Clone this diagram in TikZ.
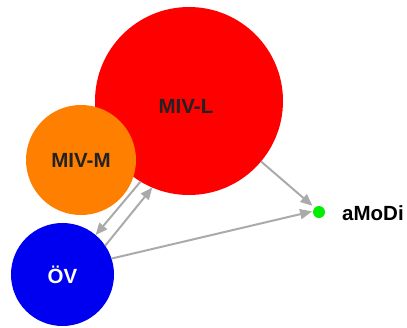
\documentclass[tikz,border=0pt]{standalone}
\usepackage{fontspec}
\setmainfont{Liberation Sans}
\usetikzlibrary{arrows.meta}
\definecolor{cred}{HTML}{FF0000}
\definecolor{corange}{HTML}{FF8000}
\definecolor{cblue}{HTML}{0000F0}
\definecolor{cgreen}{HTML}{00EE00}
\definecolor{cgray}{HTML}{AAAAAA}
\definecolor{ctext}{HTML}{222222}
\tikzset{
  bubble/.style={circle, inner sep=0pt, outer sep=0pt, font=\fontsize{20.5}{22}\selectfont\bfseries},
  arr/.style={draw=cgray, line width=2pt, -{Triangle[length=12pt,width=10pt]}},
}
\begin{document}
\begin{tikzpicture}[x=1pt,y=-1pt]
\useasboundingbox (0,0) rectangle (407,327);
\node[bubble, fill=cred, minimum size=188pt, text=ctext] (r) at (189,101) {};
\node[bubble, fill=corange, minimum size=110pt, text=ctext] (m) at (81,160) {MIV-M};
\node[bubble, text=ctext] (rl) at (186,106) {MIV-L};
\node[bubble, fill=cblue, minimum size=103pt, text=white] (v) at (62.5,274.5) {ÖV};
\node[circle, fill=cgreen, minimum size=12pt, inner sep=0pt, outer sep=0pt] (g) at (319,212) {};
\node[font=\fontsize{20.5}{22}\selectfont\bfseries, anchor=west, inner sep=0pt] (t) at (342,213) {aMoDi};
\draw[arr] (r.239) -- (v.50);
\draw[arr] (v.34) -- (r.247);
\draw[arr, shorten >=3pt] (r.-40) -- (g.135);
\draw[arr, shorten >=1pt] (v.18) -- (g.172);
\end{tikzpicture}
\end{document}
